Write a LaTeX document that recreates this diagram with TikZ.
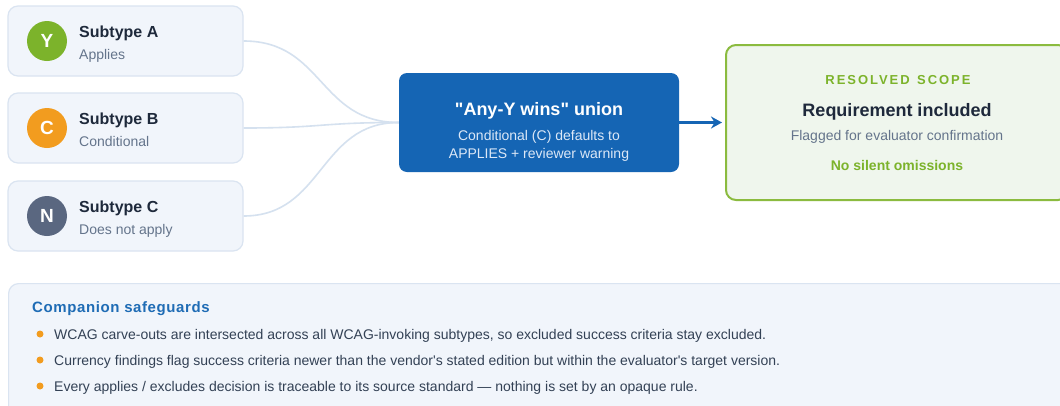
\documentclass[tikz,border=0pt]{standalone}
\usepackage{fontspec}
\setmainfont{Liberation Sans}[Ligatures=TeXOff]
\usetikzlibrary{arrows.meta}
\definecolor{cardfill}{HTML}{F1F5FB}
\definecolor{cardline}{HTML}{DAE4F1}
\definecolor{ygreen}{HTML}{7CB32B}
\definecolor{corange}{HTML}{F29C1F}
\definecolor{nslate}{HTML}{5A6780}
\definecolor{navy}{HTML}{1E293B}
\definecolor{subgray}{HTML}{64748B}
\definecolor{bodygray}{HTML}{334155}
\definecolor{unionblue}{HTML}{1565B4}
\definecolor{unionsub}{HTML}{DCE8F7}
\definecolor{resfill}{HTML}{EFF6ED}
\definecolor{resline}{HTML}{8BBB3F}
\definecolor{linkcol}{HTML}{D5E1EF}
\definecolor{titleblue}{HTML}{1F6CB5}
\newcommand{\fsz}[1]{\fontsize{#1}{#1}\selectfont}
\tikzset{
  card/.style={draw=cardline, line width=1.2pt, fill=cardfill, rounded corners=10pt, minimum width=235pt, minimum height=70pt, inner sep=0pt},
  badge/.style={circle, minimum size=40pt, inner sep=0pt, text=white, font=\fsz{19}\bfseries},
  cardtitle/.style={anchor=base west, inner sep=0pt, text=navy, font=\fsz{16}\bfseries},
  cardsub/.style={anchor=base west, inner sep=0pt, text=subgray, font=\fsz{14}},
  link/.style={draw=linkcol, line width=1.6pt},
  lbl/.style={anchor=base, inner sep=0pt},
  bullet/.style={circle, fill=corange, minimum size=7pt, inner sep=0pt},
  btext/.style={anchor=base west, inner sep=0pt, text=bodygray, font=\fsz{14}},
}
\begin{document}
\begin{tikzpicture}[x=1pt,y=-1pt]
\clip (0,0) rectangle (1060,405);
\fill[white] (0,0) rectangle (1060,405);

% subtype cards
\node[card] (a) at (125.5,41) {};
\node[card] (b) at (125.5,128) {};
\node[card] (c) at (125.5,216) {};
\node[badge, fill=ygreen] (ay) at (47,41) {Y};
\node[badge, fill=corange] (bc) at (47,128) {C};
\node[badge, fill=nslate] (cn) at (47,216) {N};
\node[cardtitle] (at) at (79,37) {Subtype A};
\node[cardsub] (as) at (79,59) {Applies};
\node[cardtitle] (bt) at (79,124) {Subtype B};
\node[cardsub] (bs) at (79,146) {Conditional};
\node[cardtitle] (ct) at (79,212) {Subtype C};
\node[cardsub] (cs) at (79,234) {Does not apply};

% union box
\node[fill=unionblue, rounded corners=8pt, minimum width=280pt, minimum height=99pt, inner sep=0pt] (u) at (539,122.5) {};
\node[lbl, text=white, font=\fsz{18}\bfseries] (ut) at (539,115.5) {"Any-Y wins" union};
\node[lbl, text=unionsub, font=\fsz{14}] (u1) at (539,140) {Conditional (C) defaults to};
\node[lbl, text=unionsub, font=\fsz{14}] (u2) at (539,158) {APPLIES + reviewer warning};

% connectors
\draw[link] (a.east) .. controls +(80,0) and +(-80,0) .. (u.west);
\draw[link] (b.east) .. controls +(80,0) and +(-80,0) .. (u.west);
\draw[link] (c.east) .. controls +(80,0) and +(-80,0) .. (u.west);

% resolved scope
\node[draw=resline, line width=2pt, fill=resfill, rounded corners=10pt, minimum width=342pt, minimum height=155pt, inner sep=0pt] (r) at (897,122.5) {};
\node[lbl, text=ygreen, font=\fsz{13}\bfseries\addfontfeatures{LetterSpace=15}] (r0) at (898,84) {RESOLVED\hspace{2pt} SCOPE};
\node[lbl, text=navy, font=\fsz{18}\bfseries] (r1) at (897,116.5) {Requirement included};
\node[lbl, text=subgray, font=\fsz{14}] (r2) at (897,140) {Flagged for evaluator confirmation};
\node[lbl, text=ygreen, font=\fsz{14}\bfseries] (r3) at (897,170) {No silent omissions};

\draw[unionblue, line width=2.5pt, -{Stealth[length=11pt,width=12pt]}] (u.east) -- ([xshift=-3pt]r.west);

% companion safeguards
\node[draw=cardline, line width=1.2pt, fill=cardfill, rounded corners=10pt, minimum width=1062pt, minimum height=140pt, inner sep=0pt, anchor=north west] (s) at (8,283) {};
\node[anchor=base west, inner sep=0pt, text=titleblue, font=\fsz{15}\bfseries\addfontfeatures{LetterSpace=4}] (st) at (32,312.5) {Companion safeguards};
\node[bullet] (d1) at (40,334) {};
\node[bullet] (d2) at (40,360) {};
\node[bullet] (d3) at (40,386) {};
\node[btext] (t1) at (54,339) {WCAG carve-outs are intersected across all WCAG-invoking subtypes, so excluded success criteria stay excluded.};
\node[btext] (t2) at (54,365) {Currency findings flag success criteria newer than the vendor's stated edition but within the evaluator's target version.};
\node[btext] (t3) at (54,391) {Every applies / excludes decision is traceable to its source standard — nothing is set by an opaque rule.};
\end{tikzpicture}
\end{document}
